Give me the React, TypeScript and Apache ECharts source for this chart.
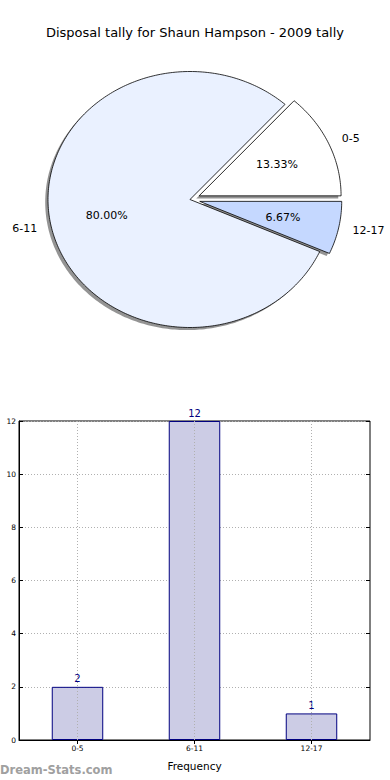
import React, { useEffect, useRef } from "react";
import * as echarts from "echarts";

const categories = ["0-5", "6-11", "12-17"];
const counts = [2, 12, 1];
const explode = [0.07, 0, 0.07];
const sliceColors = ["#ffffff", "#eaf1ff", "#c5d8ff"];
const yTicks = { min: 0, max: 12, interval: 2 };

const FONT = "DejaVu Sans";

export default function App() {
  const ref = useRef<HTMLDivElement>(null);
  useEffect(() => {
    if (!ref.current) return;
    const chart = echarts.init(ref.current, null, { renderer: "svg" });
    const total = counts.reduce((a, b) => a + b, 0);
    const starts: number[] = [];
    let acc = 0;
    counts.forEach((c) => {
      starts.push(acc);
      acc += (c / total) * 360;
    });
    const cx = 190, cy = 199.5, rx = 142, ry = 128;
    const shX = -2.8, shY = 2.6;

    const renderItem = (params: any, api: any) => {
      const i = params.dataIndex;
      const v = api.value(0);
      const a0 = starts[i];
      const a1 = a0 + (v / total) * 360;
      const mid = ((a0 + a1) / 2) * Math.PI / 180;
      const ox = explode[i] * rx * Math.cos(mid);
      const oy = -explode[i] * ry * Math.sin(mid);
      const px = cx + ox, py = cy + oy;
      const pts: number[][] = [[px, py]];
      const steps = Math.max(8, Math.ceil(a1 - a0));
      for (let k = 0; k <= steps; k++) {
        const a = (a0 + ((a1 - a0) * k) / steps) * Math.PI / 180;
        pts.push([px + rx * Math.cos(a), py - ry * Math.sin(a)]);
      }
      const shadowPts = pts.map((p) => [p[0] + shX, p[1] + shY]);
      const lx = px + 1.1 * rx * Math.cos(mid);
      const ly = py - 1.1 * ry * Math.sin(mid);
      const tx = px + 0.6 * rx * Math.cos(mid);
      const ty = py - 0.6 * ry * Math.sin(mid);
      const pct = ((v / total) * 100).toFixed(2) + "%";
      return {
        type: "group",
        children: [
          { type: "polygon", z2: 1, shape: { points: shadowPts }, style: { fill: "rgba(60,60,60,0.55)" } },
          { type: "polygon", z2: 2, shape: { points: pts }, style: { fill: sliceColors[i], stroke: "#000", lineWidth: 0.8 } },
          {
            type: "text", z2: 3, x: lx, y: ly,
            style: { text: categories[i], fill: "#000", fontSize: 11, fontFamily: FONT, align: Math.cos(mid) > 0 ? "left" : "right", verticalAlign: "middle" },
          },
          {
            type: "text", z2: 3, x: tx, y: ty,
            style: { text: pct, fill: "#000", fontSize: 11, fontFamily: FONT, align: "center", verticalAlign: "middle" },
          },
        ],
      };
    };

    const dotted = { color: "#b0b0b0", type: [1, 2] as any, width: 1 };

    chart.setOption({
      animation: false,
      backgroundColor: "#ffffff",
      textStyle: { fontFamily: FONT },
      title: {
        text: "Disposal tally for Shaun Hampson - 2009 tally",
        left: "center",
        top: 21,
        textStyle: { fontFamily: FONT, fontSize: 13, fontWeight: "normal", color: "#000" },
      },
      grid: {
        left: 19, right: 20, top: 421, bottom: 40,
        containLabel: false,
        outerBoundsMode: "none",
        show: true, borderColor: "#000", borderWidth: 1, backgroundColor: "transparent",
      },
      xAxis: [
        {
          type: "category",
          data: categories,
          boundaryGap: true,
          axisLine: { show: true, lineStyle: { color: "#000" } },
          axisTick: { show: true, inside: true, alignWithLabel: true, length: 4, lineStyle: { color: "#000" } },
          axisLabel: { fontSize: 7.5, color: "#000", margin: 4, fontFamily: FONT },
          splitLine: { show: false },
          name: "Frequency",
          nameLocation: "middle",
          nameGap: 20,
          nameTextStyle: { fontSize: 10.5, color: "#000", fontFamily: FONT },
        },
        {
          type: "category",
          data: categories,
          position: "top",
          boundaryGap: true,
          axisLine: { show: false },
          axisTick: { show: true, inside: true, alignWithLabel: true, length: 4, lineStyle: { color: "#000" } },
          axisLabel: { show: false },
          splitLine: { show: false },
        },
      ],
      yAxis: [
        {
          type: "value",
          min: yTicks.min,
          max: yTicks.max,
          interval: yTicks.interval,
          axisLine: { show: true, lineStyle: { color: "#000" } },
          axisTick: { show: true, inside: true, length: 4, lineStyle: { color: "#000" } },
          axisLabel: { fontSize: 7.5, color: "#000", margin: 3, fontFamily: FONT },
          splitLine: { show: true, lineStyle: dotted },
          name: "Disposal Tally",
          nameLocation: "middle",
          nameGap: 21,
          nameTextStyle: { fontSize: 10, color: "#000", fontFamily: FONT },
        },
        {
          type: "value",
          position: "right",
          min: yTicks.min,
          max: yTicks.max,
          interval: yTicks.interval,
          axisLine: { show: false },
          axisTick: { show: true, inside: true, length: 4, lineStyle: { color: "#000" } },
          axisLabel: { show: false },
          splitLine: { show: false },
        },
      ],
      graphic: [
        {
          type: "text",
          left: 0,
          top: 764,
          style: { text: "Dream-Stats.com", fill: "#a0a0a0", fontSize: 11.5, fontWeight: "bold", fontFamily: FONT },
        },
      ],
      series: [
        {
          type: "custom",
          coordinateSystem: "none",
          renderItem,
          data: counts,
          silent: true,
        },
        {
          type: "bar",
          data: counts,
          xAxisIndex: 0,
          yAxisIndex: 0,
          barWidth: "44%",
          itemStyle: { color: "#ccccE5", borderColor: "#000080", borderWidth: 1 },
          label: { show: true, position: "top", color: "#000080", fontSize: 10, fontFamily: FONT, distance: 3 },
          markLine: {
            silent: true,
            symbol: "none",
            label: { show: false },
            lineStyle: dotted,
            data: categories.map((c) => ({ xAxis: c })),
          },
        },
      ],
    });
    return () => chart.dispose();
  }, []);
  return <div ref={ref} style={{ position: "fixed", left: 0, top: 0, width: 390, height: 780 }} />;
}
